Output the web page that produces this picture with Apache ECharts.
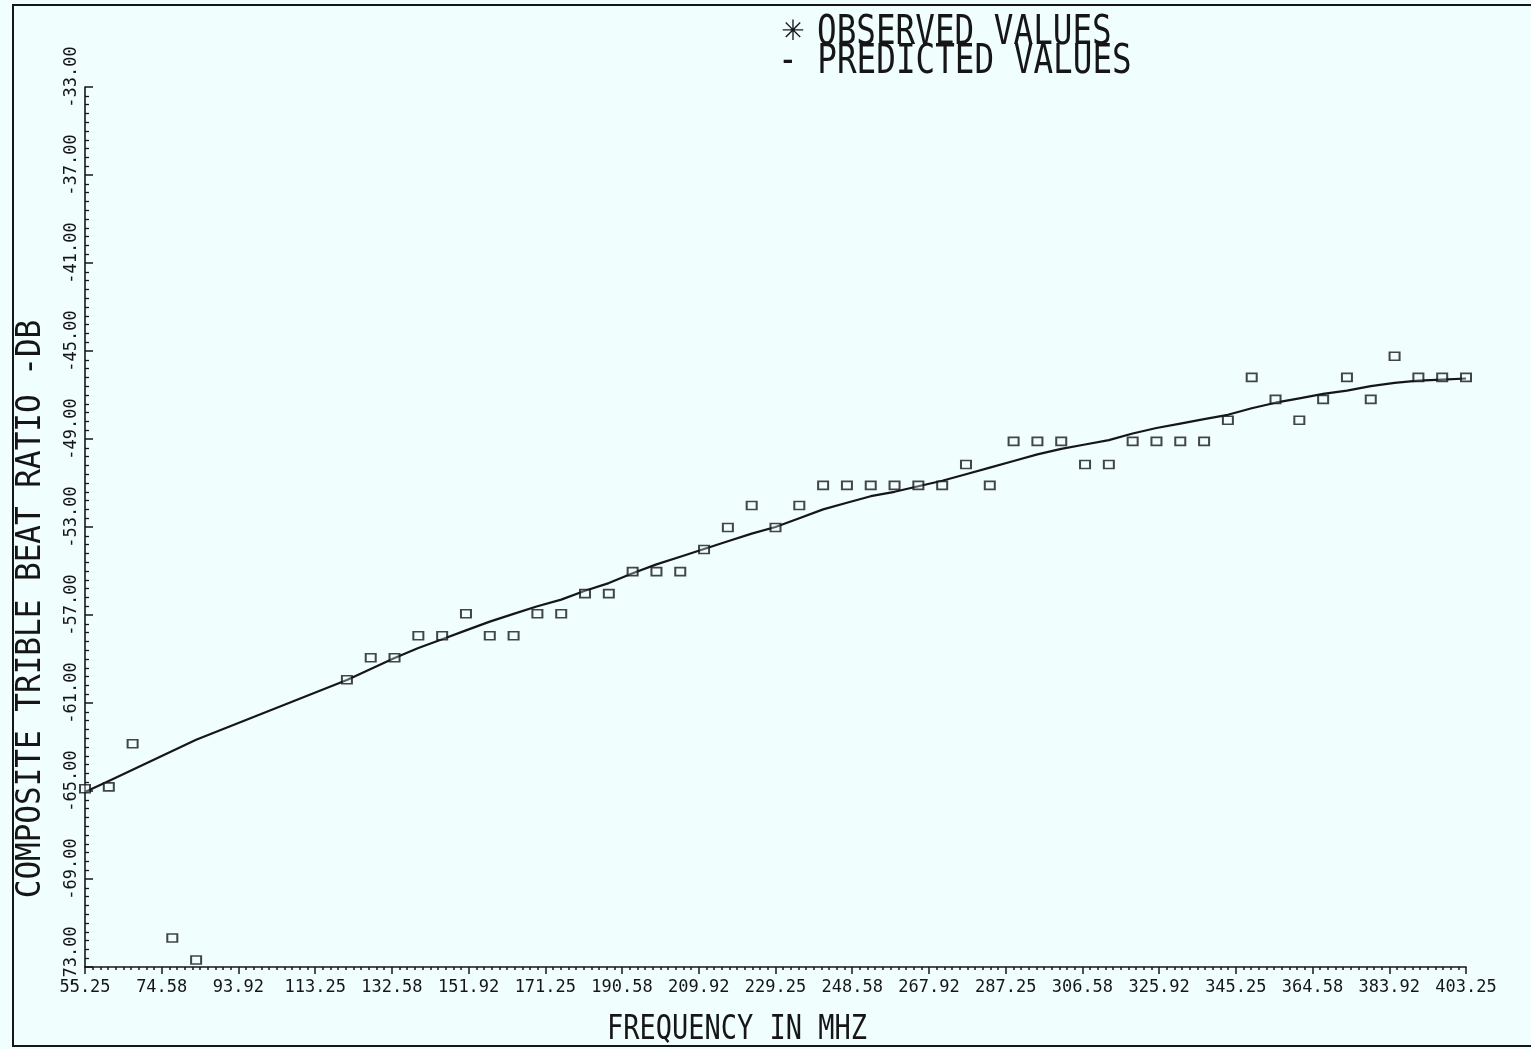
<!DOCTYPE html>
<html>
<head>
<meta charset="utf-8">
<script src="https://cdn.jsdelivr.net/npm/echarts@6/dist/echarts.min.js"></script>
<style>
html,body{margin:0;padding:0;background:#F0FEFE;}
#chart{width:1531px;height:1049px;}
</style>
</head>
<body>
<div id="chart"></div>
<script>
// ---- data ----
var freqMHz = [55.25, 61.25, 67.25, 77.25, 83.25,
  121.25, 127.25, 133.25, 139.25, 145.25, 151.25, 157.25, 163.25, 169.25, 175.25,
  181.25, 187.25, 193.25, 199.25, 205.25, 211.25, 217.25, 223.25, 229.25, 235.25,
  241.25, 247.25, 253.25, 259.25, 265.25, 271.25, 277.25, 283.25, 289.25, 295.25,
  301.25, 307.25, 313.25, 319.25, 325.25, 331.25, 337.25, 343.25, 349.25, 355.25,
  361.25, 367.25, 373.25, 379.25, 385.25, 391.25, 397.25, 403.25];
var observedDb = [-64.9, -64.81, -62.85, -71.68, -72.68,
  -59.94, -58.94, -58.94, -57.94, -57.94, -56.94, -57.94, -57.94, -56.94, -56.94,
  -56.03, -56.03, -55.03, -55.03, -55.03, -54.02, -53.02, -52.02, -53.02, -52.02,
  -51.11, -51.11, -51.11, -51.11, -51.11, -51.11, -50.16, -51.11, -49.11, -49.11,
  -49.11, -50.16, -50.16, -49.11, -49.11, -49.11, -49.11, -48.15, -46.2, -47.2,
  -48.15, -47.2, -46.2, -47.2, -45.24, -46.2, -46.2, -46.2];
var predictedDb = [-65.05, -64.54, -64.03, -63.18, -62.67,
  -59.95, -59.45, -58.95, -58.5, -58.1, -57.7, -57.3, -56.95, -56.6, -56.3,
  -55.9, -55.55, -55.1, -54.7, -54.35, -54.0, -53.65, -53.3, -53.0, -52.6,
  -52.2, -51.9, -51.6, -51.4, -51.15, -50.9, -50.6, -50.3, -50.0, -49.7,
  -49.45, -49.25, -49.05, -48.75, -48.5, -48.3, -48.1, -47.9, -47.6, -47.35,
  -47.15, -46.95, -46.8, -46.6, -46.45, -46.35, -46.3, -46.25];
var xTickLabels = ['55.25','74.58','93.92','113.25','132.58','151.92','171.25','190.58','209.92','229.25',
  '248.58','267.92','287.25','306.58','325.92','345.25','364.58','383.92','403.25'];
var yTickLabels = ['-73.00','-69.00','-65.00','-61.00','-57.00','-53.00','-49.00','-45.00','-41.00','-37.00','-33.00'];

// axis origin offsets (so that ticks start exactly at the first label)
var X0 = 55.25, XSCALE = 3;   // axis units = (MHz - 55.25) * 3  -> tick step 58
var Y0 = -73;                 // axis units = dB + 73            -> tick step 4

function toX(f){ return Math.round((f - X0) * XSCALE * 1000) / 1000; }
function toY(v){ return Math.round((v - Y0) * 1000) / 1000; }

var obsData = freqMHz.map(function(f, i){ return [toX(f), toY(observedDb[i])]; });
var predData = freqMHz.map(function(f, i){ return [toX(f), toY(predictedDb[i])]; });

var INK = '#161616';
var MONO = '"DejaVu Sans Mono", "Liberation Mono", monospace';

var chart = echarts.init(document.getElementById('chart'), null, {renderer: 'canvas'});
chart.setOption({
  backgroundColor: '#F0FEFE',
  animation: false,
  grid: {left: 85, right: 65, top: 87, bottom: 82, containLabel: false},
  xAxis: {
    type: 'value', min: 0, max: 1044, interval: 58,
    axisLine: {show: true, lineStyle: {color: INK, width: 1.6}},
    axisTick: {show: true, inside: false, length: 7, lineStyle: {color: INK, width: 1.5}},
    minorTick: {show: true, splitNumber: 10, length: 3, lineStyle: {color: INK, width: 1.5}},
    splitLine: {show: false},
    axisLabel: {
      color: INK, fontFamily: MONO, fontSize: 17, margin: 12,
      formatter: function(v){ return xTickLabels[Math.round(v / 58)] || ''; }
    }
  },
  yAxis: {
    type: 'value', min: 0, max: 40, interval: 4,
    axisLine: {show: true, lineStyle: {color: INK, width: 1.6}},
    axisTick: {show: true, inside: true, length: 8, lineStyle: {color: INK, width: 1.5}},
    minorTick: {show: true, splitNumber: 10, length: 4, lineStyle: {color: INK, width: 1.3}},
    splitLine: {show: false},
    axisLabel: {
      color: INK, fontFamily: MONO, fontSize: 17, margin: 5, rotate: 90,
      padding: [0, 0, 0, 20],
      formatter: function(v){ return yTickLabels[Math.round(v / 4)] || ''; }
    }
  },
  series: [
    {
      name: 'PREDICTED VALUES', type: 'line', data: predData,
      showSymbol: false, symbol: 'none', smooth: false,
      lineStyle: {color: INK, width: 2.2}, z: 2
    },
    {
      name: 'OBSERVED VALUES', type: 'scatter', data: obsData,
      symbol: 'rect', symbolSize: [10, 8],
      itemStyle: {color: 'rgba(240,254,254,0.4)', borderColor: INK, borderWidth: 1.8},
      z: 3
    }
  ],
  graphic: [
    {type: 'polyline', silent: true, shape: {points: [[1531, 5], [13, 5], [13, 1046], [1531, 1046]]},
      style: {stroke: INK, lineWidth: 2, fill: null}},
    {type: 'text', x: 793, y: 33,
      style: {text: '✳', fill: INK, font: '28px "DejaVu Sans", sans-serif', textVerticalAlign: 'middle', textAlign: 'center'}},
    {type: 'text', x: 817, y: 33, scaleX: 1.02, scaleY: 1.29,
      style: {text: 'OBSERVED VALUES', fill: INK, font: '32px ' + MONO, textVerticalAlign: 'middle', textAlign: 'left'}},
    {type: 'text', x: 778, y: 62, scaleX: 1.02, scaleY: 1.29,
      style: {text: '- PREDICTED VALUES', fill: INK, font: '32px ' + MONO, textVerticalAlign: 'middle', textAlign: 'left'}},
    {type: 'text', x: 737, y: 1030, scaleX: 1.0, scaleY: 1.22,
      style: {text: 'FREQUENCY IN MHZ', fill: INK, font: '27px ' + MONO, textVerticalAlign: 'middle', textAlign: 'center'}},
    {type: 'text', x: 31, y: 609, rotation: Math.PI / 2, scaleX: 1.0, scaleY: 1.06,
      style: {text: 'COMPOSITE TRIBLE BEAT RATIO -DB', fill: INK, font: '31px ' + MONO, textVerticalAlign: 'middle', textAlign: 'center'}}
  ]
});
</script>
</body>
</html>
